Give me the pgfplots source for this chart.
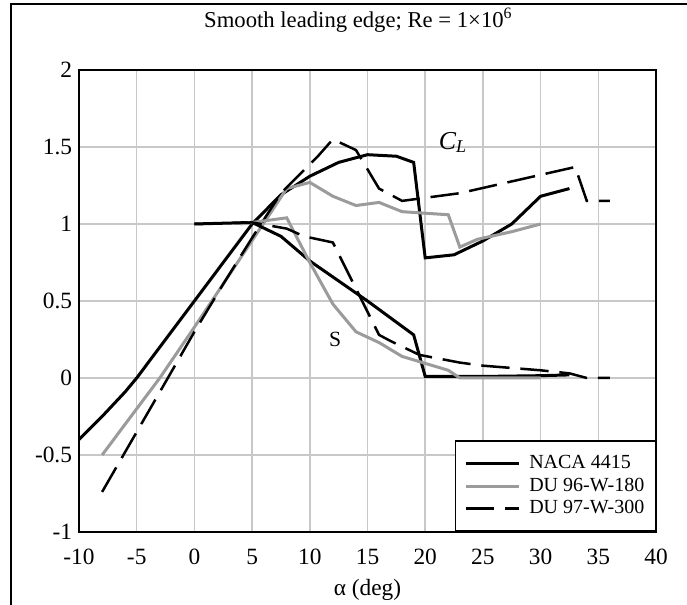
\documentclass[border=0pt]{standalone}
\usepackage{fontspec}
\setmainfont{Liberation Serif}
\usepackage{pgfplots}
\pgfplotsset{compat=1.18}
\definecolor{gridc}{RGB}{200,200,200}
\definecolor{du96}{RGB}{155,155,155}
\newcommand{\lf}{\fontsize{12}{14}\selectfont}
\begin{document}
\fontsize{12}{14}\selectfont
\begin{tikzpicture}[x=1pt,y=1pt]
\fontsize{12}{14}\selectfont
\useasboundingbox (-47.4,-43.8) rectangle (364.8,319.2);
\draw[line width=1.1pt] (-40.8,-43.8) -- (-40.8,316.8) -- (364.8,316.8);
\node[font=\fontsize{13.6}{15}\selectfont] at (167.6,307.2) {Smooth leading edge; Re = 1×10\textsuperscript{6}};
\begin{axis}[
  at={(0,0)}, anchor=south west, scale only axis,
  width=346.2pt, height=277.2pt,
  xmin=-10, xmax=40, ymin=-1, ymax=2,
  xtick={-10,-5,...,40}, ytick={-1,-0.5,...,2},
  grid=major, major grid style={line width=0.9pt, color=gridc},
  major tick length=0pt,
  axis line style={line width=1.4pt},
  every tick label/.append style={font=\fontsize{14}{16}\selectfont},
  xticklabel style={yshift=-6pt},
  /pgf/number format/assume math mode=true,
  xlabel={α (deg)},
  xlabel style={at={(axis description cs:0.5,0)}, anchor=center, yshift=-34.8pt, font=\fontsize{14}{16}\selectfont},
  legend style={at={(1,0)}, anchor=south east, draw=black, line width=0.9pt, fill=white,
    font=\lf, inner xsep=5.6pt, inner ysep=7pt, row sep=0.5pt,
    nodes={inner sep=1pt, text height=8.5pt, text depth=2.5pt},
    /tikz/every odd column/.append style={column sep=4pt},
    cells={anchor=west}},
  legend image code/.code={\draw[#1] (0pt,0pt) -- (32pt,0pt);},
  clip=true,
]
% NACA 4415
\addplot[black, line width=1.8pt] coordinates {
(-10,-0.40) (-8,-0.25) (-6,-0.09) (-5,0.00) (-2.5,0.25) (0,0.50) (2.5,0.75) (5,1.00)
(7.5,1.19) (10,1.31) (12.5,1.40) (15,1.45) (17.5,1.44) (19,1.40) (20,0.78) (22.5,0.80)
(25,0.89) (27.5,1.00) (30,1.18) (32.5,1.23)};
\addlegendentry{\lf NACA 4415}
% DU 96-W-180
\addplot[du96, line width=1.8pt] coordinates {
(-8,-0.50) (-3,0.00) (0,0.33) (8,1.23) (10,1.27) (12,1.18) (14,1.12) (16,1.14) (18,1.08)
(22,1.06) (23,0.85) (24.5,0.90) (27.5,0.95) (30,1.00)};
\addlegendentry{\lf DU 96-W-180}
% DU 97-W-300
\addplot[black, line width=1.5pt, dash pattern=on 17pt off 6.5pt] coordinates {
(-8,-0.74) (-2.3,0.00) (0,0.30) (2.5,0.61) (5,0.91) (7.5,1.2) (10.7,1.44) (12,1.55) (14,1.48)
(16,1.23) (18,1.15) (20,1.17) (23,1.20) (33,1.37) (34,1.15) (36,1.15)};
\addlegendentry{\lf DU 97-W-300}
% separation curves
\addplot[black, line width=1.8pt, forget plot] coordinates {
(0,1.00) (5,1.01) (7.5,0.92) (10,0.76) (15,0.50) (19,0.28) (20,0.01) (25,0.01) (30,0.015) (32.5,0.02)};
\addplot[du96, line width=1.8pt, forget plot] coordinates {
(4,1.00) (5,1.01) (8,1.04) (10,0.75) (12,0.48) (14,0.30) (16,0.23) (18,0.14) (22,0.05) (23,0.00) (30,0.00)};
\addplot[black, line width=1.5pt, dash pattern=on 17pt off 6.5pt, forget plot] coordinates {
(0,1.00) (5,1.01) (8,0.97) (9.5,0.92) (12,0.88) (14,0.58) (16,0.28) (17,0.24) (19.5,0.15)
(23,0.10) (25,0.08) (30,0.05) (32.5,0.03) (34,0.00) (36,0.00)};
\node[font=\fontsize{15.5}{17}\selectfont] at (axis cs:22.4,1.53) {\itshape C\textsubscript{L}};
\node[font=\fontsize{13}{15}\selectfont] at (axis cs:12.2,0.25) {S};
\end{axis}
\end{tikzpicture}
\end{document}
